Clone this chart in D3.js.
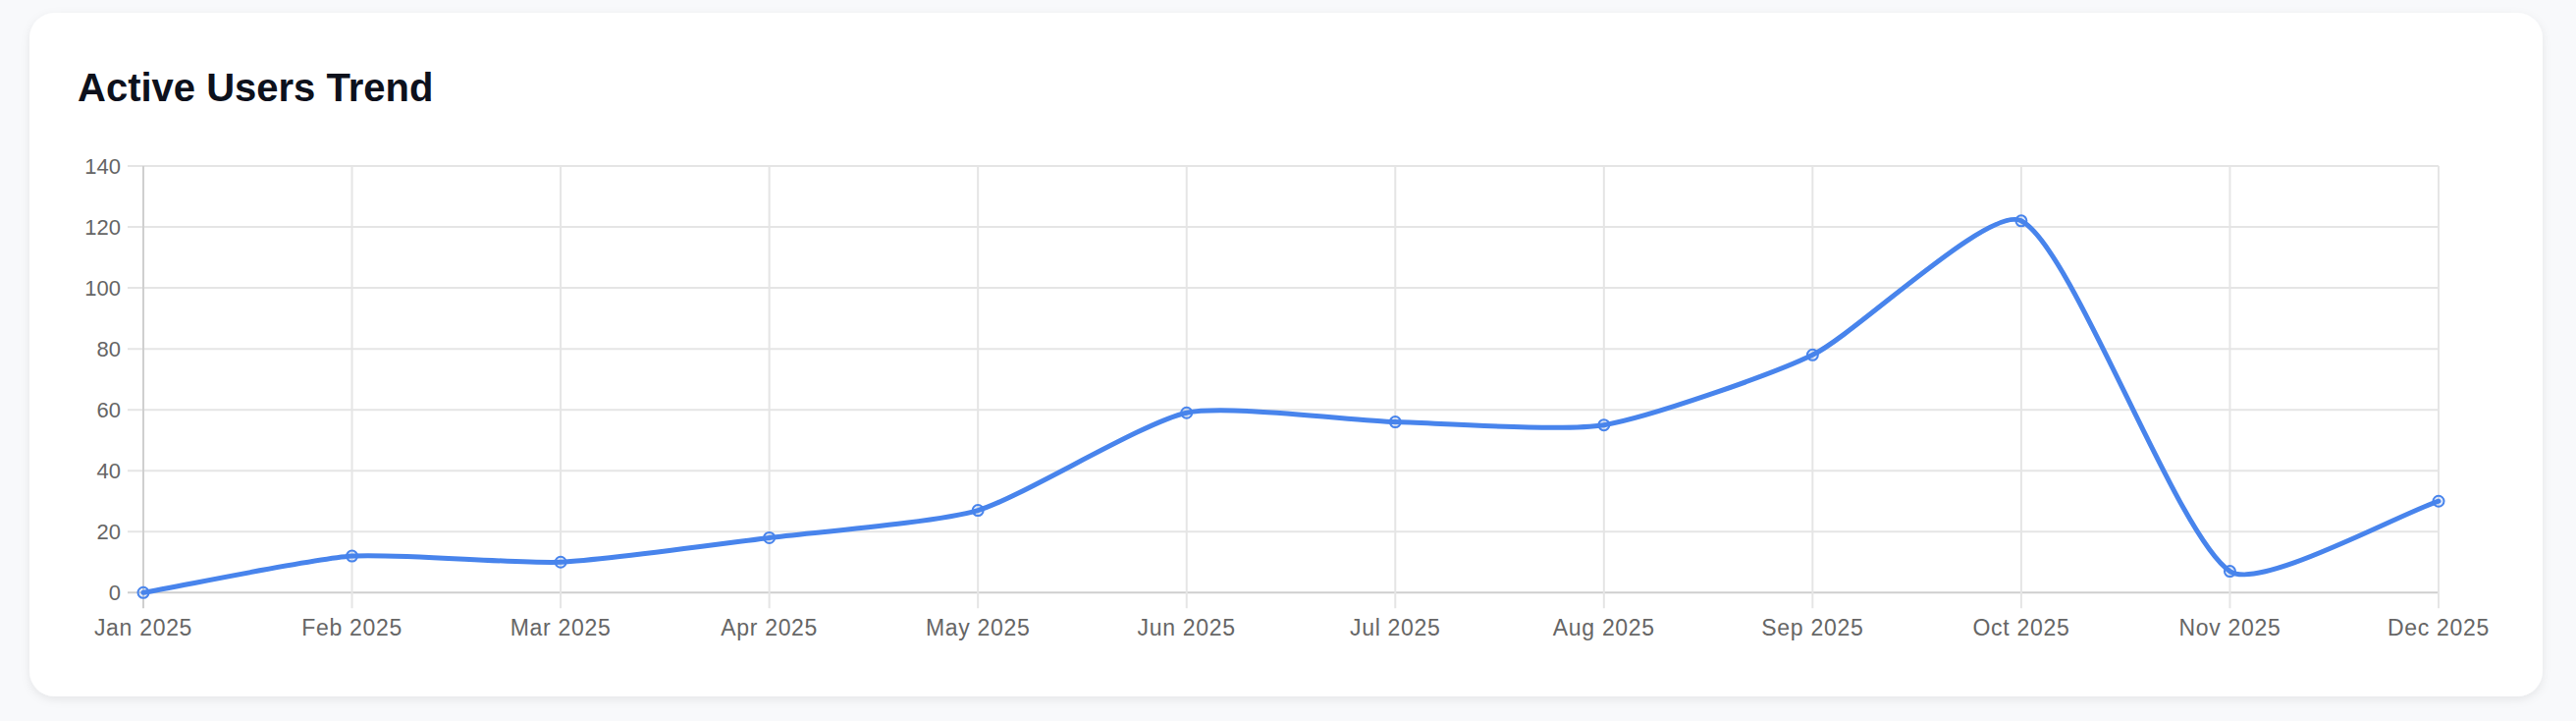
<!DOCTYPE html>
<html>
<head>
<meta charset="utf-8">
<script src="https://cdn.jsdelivr.net/npm/d3@7/dist/d3.min.js"></script>
<style>
  html, body { margin: 0; padding: 0; background: #f8f9fb; }
  body { width: 2624px; height: 734px; overflow: hidden; }
  svg { display: block; }
</style>
</head>
<body>
<svg id="chart" width="2624" height="734"></svg>
<script>
const months = ["Jan 2025","Feb 2025","Mar 2025","Apr 2025","May 2025","Jun 2025","Jul 2025","Aug 2025","Sep 2025","Oct 2025","Nov 2025","Dec 2025"];
const activeUsers = [0, 12, 10, 18, 27, 59, 56, 55, 78, 122, 7, 30];
const yTicks = [0, 20, 40, 60, 80, 100, 120, 140];
const chartTitle = "Active Users Trend";

(function () {
const svg = d3.select("#chart");
const font = "'Liberation Sans', Arial, Helvetica, sans-serif";

const pLeft = 146, pRight = 2484, pTop = 169, pBottom = 603.3;
const x = d3.scalePoint().domain(months).range([pLeft, pRight]);
const y = d3.scaleLinear().domain([0, 140]).range([pBottom, pTop]);

// Distance-weighted tension spline (control points capped to the plot area) as a D3 curve factory
function splineCurveFactory(tension) {
  return function (context) {
    let pts = [];
    const clampX = v => Math.max(pLeft, Math.min(pRight, v));
    const clampY = v => Math.max(pTop, Math.min(pBottom, v));
    return {
      lineStart() { pts = []; },
      lineEnd() {
        const n = pts.length;
        if (!n) return;
        const cps = pts.map((c, i) => {
          const p = pts[i - 1] || c, nx = pts[i + 1] || c;
          const d01 = Math.hypot(c[0] - p[0], c[1] - p[1]);
          const d12 = Math.hypot(nx[0] - c[0], nx[1] - c[1]);
          let s01 = d01 / (d01 + d12), s12 = d12 / (d01 + d12);
          if (isNaN(s01)) s01 = 0; if (isNaN(s12)) s12 = 0;
          const fa = tension * s01, fb = tension * s12;
          return {
            prev: [clampX(c[0] - fa * (nx[0] - p[0])), clampY(c[1] - fa * (nx[1] - p[1]))],
            next: [clampX(c[0] + fb * (nx[0] - p[0])), clampY(c[1] + fb * (nx[1] - p[1]))]
          };
        });
        context.moveTo(pts[0][0], pts[0][1]);
        for (let i = 1; i < n; i++) {
          const a = cps[i - 1].next, b = cps[i].prev;
          context.bezierCurveTo(a[0], a[1], b[0], b[1], pts[i][0], pts[i][1]);
        }
      },
      point(px, py) { pts.push([+px, +py]); },
      areaStart() {}, areaEnd() {}
    };
  };
}

const defs = svg.append("defs");
const filt = defs.append("filter").attr("id", "shadow").attr("x", "-5%").attr("y", "-10%").attr("width", "110%").attr("height", "125%");
filt.append("feDropShadow").attr("dx", 0).attr("dy", 3).attr("stdDeviation", 5).attr("flood-color", "#000").attr("flood-opacity", 0.08);

svg.append("rect")
  .attr("x", 30).attr("y", 13).attr("width", 2560).attr("height", 696)
  .attr("rx", 26).attr("ry", 26)
  .attr("fill", "#ffffff")
  .attr("filter", "url(#shadow)");

svg.append("text")
  .attr("x", 79).attr("y", 103)
  .attr("font-family", font).attr("font-weight", 700).attr("font-size", 40)
  .attr("fill", "#0d111c")
  .text(chartTitle);

const grid = svg.append("g");
grid.selectAll("line.h").data(yTicks).join("line")
  .attr("class", "h")
  .attr("x1", pLeft - 16).attr("x2", pRight)
  .attr("y1", d => y(d)).attr("y2", d => y(d))
  .attr("stroke", d => d === 0 ? "#cfcfcf" : "#e5e5e5")
  .attr("stroke-width", 2);
grid.selectAll("line.v").data(months).join("line")
  .attr("class", "v")
  .attr("x1", d => x(d)).attr("x2", d => x(d))
  .attr("y1", pTop).attr("y2", pBottom + 16)
  .attr("stroke", (d, i) => i === 0 ? "#cfcfcf" : "#e5e5e5")
  .attr("stroke-width", 2);

svg.append("g").selectAll("text").data(yTicks).join("text")
  .attr("x", 123).attr("y", d => y(d))
  .attr("dy", "0.36em")
  .attr("text-anchor", "end")
  .attr("font-family", font).attr("font-size", 22)
  .attr("fill", "#666666")
  .text(d => d);

svg.append("g").selectAll("text").data(months).join("text")
  .attr("x", d => x(d)).attr("y", 647)
  .attr("text-anchor", "middle")
  .attr("font-family", font).attr("font-size", 23)
  .attr("letter-spacing", 0.7)
  .attr("fill", "#666666")
  .text(d => d);

const data = months.map((m, i) => ({ m, v: activeUsers[i] }));
const line = d3.line().x(d => x(d.m)).y(d => y(d.v)).curve(splineCurveFactory(0.2));

svg.append("path")
  .datum(data)
  .attr("d", line)
  .attr("fill", "none")
  .attr("stroke", "#4884ec")
  .attr("stroke-width", 5)
  .attr("stroke-linejoin", "round")
  .attr("stroke-linecap", "round");

svg.append("g").selectAll("circle").data(data).join("circle")
  .attr("cx", d => x(d.m)).attr("cy", d => y(d.v))
  .attr("r", 5.5)
  .attr("fill", "rgba(72,132,236,0.15)")
  .attr("stroke", "#4884ec")
  .attr("stroke-width", 2);
})();
</script>
</body>
</html>
